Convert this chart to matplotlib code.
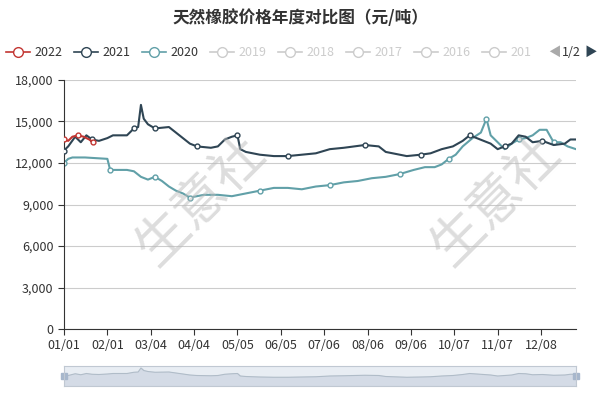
import matplotlib
matplotlib.use("Agg")
import matplotlib.pyplot as plt
import numpy as np

plt.rcParams['font.family'] = ['Noto Sans CJK SC', 'DejaVu Sans']

title = "天然橡胶价格年度对比图（元/吨）"
tick_days = [0, 31, 62, 93, 124, 155, 186, 217, 248, 279, 310, 341]
tick_labels = ["01/01", "02/01", "03/04", "04/04", "05/05", "06/05", "07/06", "08/06", "09/06", "10/07", "11/07", "12/08"]

d2021 = [0, 3, 8, 12, 16, 20, 25, 31, 35, 45, 50, 53, 55, 57, 60, 65, 75, 80, 85, 90, 95, 105, 110, 115, 120, 124, 126, 130, 140, 150, 160, 170, 180, 190, 200, 215, 225, 230, 240, 245, 255, 262, 270, 278, 285, 290, 295, 300, 305, 310, 315, 320, 325, 330, 335, 342, 350, 358, 362, 366]
v2021 = [12900, 13200, 13900, 13500, 14000, 13700, 13600, 13800, 14000, 14000, 14500, 14600, 16200, 15200, 14800, 14500, 14600, 14200, 13800, 13400, 13200, 13100, 13200, 13700, 13900, 14000, 13000, 12800, 12600, 12500, 12500, 12600, 12700, 13000, 13100, 13300, 13200, 12800, 12600, 12500, 12600, 12700, 13000, 13200, 13600, 14000, 13800, 13600, 13400, 13000, 13200, 13400, 14000, 13900, 13500, 13600, 13300, 13400, 13700, 13700]

d2020 = [0, 3, 6, 15, 31, 33, 45, 50, 55, 60, 65, 70, 75, 80, 85, 90, 100, 110, 120, 130, 140, 150, 160, 170, 180, 190, 200, 210, 220, 230, 240, 250, 258, 265, 270, 275, 280, 285, 292, 298, 302, 305, 310, 315, 320, 325, 330, 335, 340, 345, 350, 355, 360, 366]
v2020 = [12000, 12300, 12400, 12400, 12300, 11500, 11500, 11400, 11000, 10800, 11000, 10700, 10300, 10000, 9800, 9500, 9700, 9700, 9600, 9800, 10000, 10200, 10200, 10100, 10300, 10400, 10600, 10700, 10900, 11000, 11200, 11500, 11700, 11700, 11900, 12300, 12600, 13200, 13800, 14200, 15200, 14000, 13500, 13000, 13400, 13700, 13800, 14000, 14400, 14400, 13500, 13500, 13200, 13000]

d2022 = [0, 3, 6, 10, 14, 18, 21]
v2022 = [13700, 13600, 13900, 14000, 13900, 13700, 13500]

c2022, c2021, c2020 = "#c23531", "#2f4554", "#61a0a8"

fig = plt.figure(figsize=(6, 4), dpi=100)
ax = fig.add_axes([64/600, 1-329/400, 512/600, 249/400])
ax.plot(d2020, v2020, color=c2020, lw=1.5, marker='o', markevery=5, ms=3.5, mfc='white', zorder=2)
ax.plot(d2021, v2021, color=c2021, lw=1.5, marker='o', markevery=5, ms=3.5, mfc='white', zorder=3)
ax.plot(d2022, v2022, color=c2022, lw=1.5, marker='o', markevery=3, ms=3.5, mfc='white', zorder=4)

ax.set_xlim(0, 366)
ax.set_ylim(0, 18000)
ax.set_yticks(range(0, 18001, 3000))
ax.set_yticklabels([f"{v:,}" for v in range(0, 18001, 3000)], fontsize=9, color='#333')
ax.set_xticks(tick_days)
ax.set_xticklabels(tick_labels, fontsize=9, color='#333')
ax.grid(axis='y', color='#ccc', lw=0.8)
for s in ['top', 'right']:
    ax.spines[s].set_visible(False)
ax.tick_params(length=4, color='#333')
ax.spines['left'].set_color('#333')
ax.spines['bottom'].set_color('#333')

for x in [200, 495]:
    fig.text(x/600, 1-200/400, "生意社", fontsize=38, color='#bbbbbb', alpha=0.5, rotation=45, ha='center', va='center')

fig.text(0.5, 1-18/400, title, ha='center', va='center', fontsize=12, fontweight='bold', color='#333')

legend_items = [("2022", c2022), ("2021", c2021), ("2020", c2020), ("2019", "#ccc"), ("2018", "#ccc"), ("2017", "#ccc"), ("2016", "#ccc"), ("201", "#ccc")]
x = 6
for lab, col in legend_items:
    fig.lines.append(plt.Line2D([x/600, (x+24)/600], [1-52/400]*2, color=col, lw=1.2, transform=fig.transFigure))
    fig.lines.append(plt.Line2D([(x+12)/600], [1-52/400], marker='o', ms=7, mfc='white', mec=col, color=col, transform=fig.transFigure))
    tc = '#333' if col != '#ccc' else '#ccc'
    fig.text((x+28)/600, 1-52/400, lab, fontsize=9, color=tc, va='center')
    x += 68
fig.text(548/600, 1-52/400, "◀", fontsize=9, color='#aaa', va='center')
fig.text(562/600, 1-52/400, "1/2", fontsize=9, color='#333', va='center')
fig.text(584/600, 1-52/400, "▶", fontsize=9, color='#2f4554', va='center')

zax = fig.add_axes([64/600, 1-386/400, 512/600, 20/400])
zax.fill_between(d2021, v2021, color='#d4dbe6')
zax.plot(d2021, v2021, color='#b0bcc8', lw=0.8)
zax.set_xlim(0, 366); zax.set_ylim(9000, 17000)
zax.set_facecolor('#e8edf3')
zax.set_xticks([]); zax.set_yticks([])
for s in zax.spines.values():
    s.set_color('#c0c8d2')
for xx in [0, 366]:
    zax.plot([xx], [13000], marker='s', ms=5, color='#a7b7cc', clip_on=False)

fig.savefig("out.png", dpi=100)
